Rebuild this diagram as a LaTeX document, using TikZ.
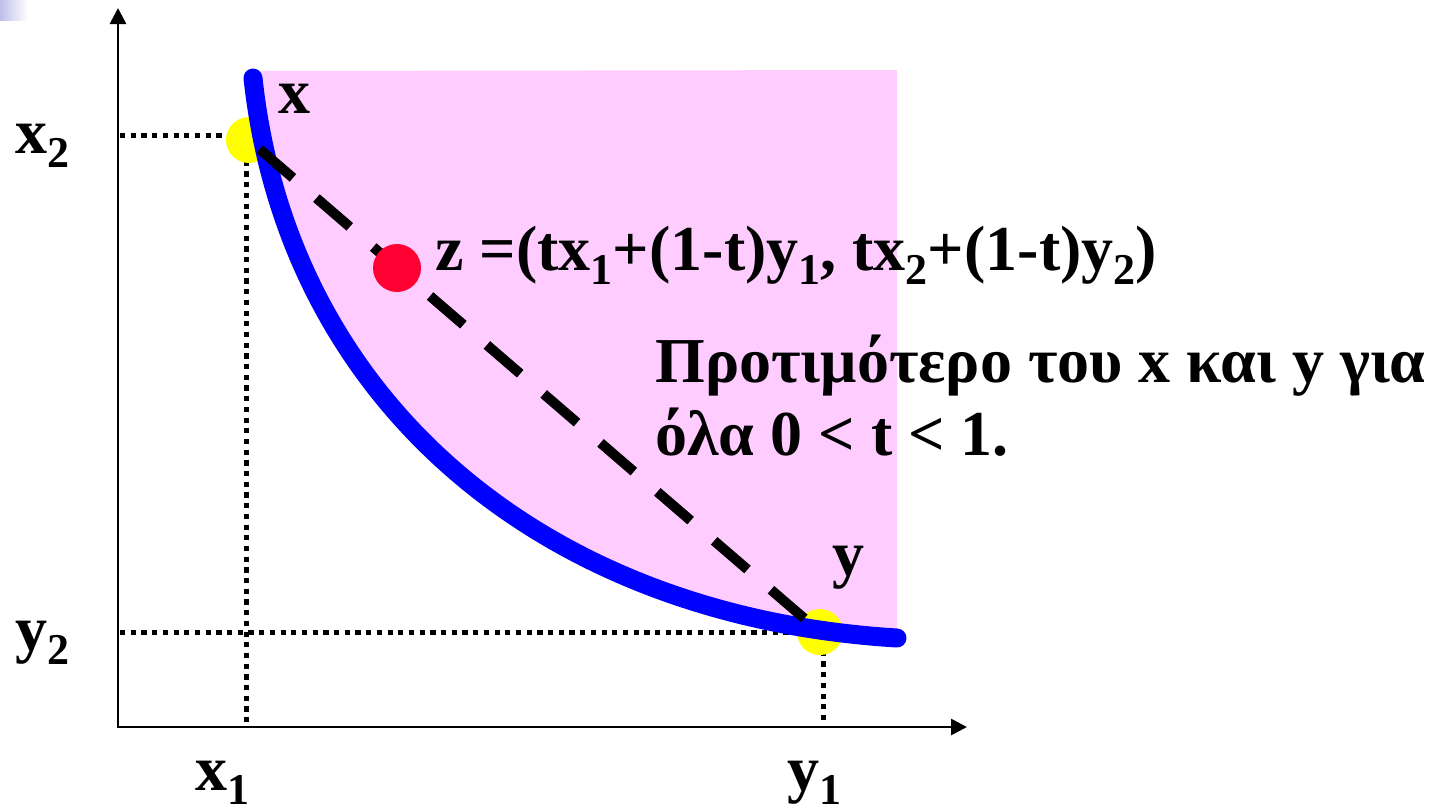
\documentclass[tikz,border=0pt]{standalone}
\usepackage{fontspec}
\setmainfont{Liberation Serif}
\usetikzlibrary{arrows.meta}
\definecolor{pinkfill}{RGB}{255,204,255}
\definecolor{curveblue}{RGB}{0,0,255}
\definecolor{dotyellow}{RGB}{255,255,0}
\definecolor{dotred}{RGB}{255,0,51}
\definecolor{lav}{RGB}{190,190,235}
\newcommand\subt[1]{\raisebox{-7pt}{\fontsize{22}{22}\selectfont #1}}
\begin{document}
\begin{tikzpicture}[x=0.5pt,y=-0.5pt,
  lbl/.style={font=\fontsize{32}{36.5}\selectfont\bfseries, inner sep=0pt, anchor=base west},
  dotline/.style={line width=2.5pt, dash pattern=on 2.6pt off 2.75pt},
  axisline/.style={line width=1.4pt, {Triangle[length=8pt,width=8pt]}-{Triangle[length=8pt,width=8pt]}},
  yellowdot/.style={circle, fill=dotyellow, minimum size=23pt, inner sep=0pt},
  reddot/.style={circle, fill=dotred, minimum size=24pt, inner sep=0pt},
  curveline/.style={draw=curveblue, line width=9.5pt, line cap=round},
  chord/.style={line width=5pt, dash pattern=on 22pt off 15.5pt, dash phase=30.5pt}]
\useasboundingbox (0,0) rectangle (1431,811);
% corner decoration
\shade[left color=lav, right color=white] (0,0) rectangle (28,20);
% named points
\coordinate (O) at (118,727);
\coordinate (ytip) at (118,8);
\coordinate (xtip) at (967,727);
\coordinate (cs) at (253,78);
\coordinate (ce) at (897,638);
\coordinate (xax2) at (120,135);
\coordinate (xpt2) at (238,135);
\coordinate (xax1) at (246,725);
\coordinate (xpt1) at (246,150);
\coordinate (yax2) at (120,632);
\coordinate (ypt2) at (820,632);
\coordinate (yax1) at (823,725);
\coordinate (ypt1) at (823,640);
% preferred region
\fill[pinkfill] (253,71) -- (897,70) -- (ce) .. controls (536,616) and (287,395) .. (cs) -- cycle;
% axes
\draw[axisline] (ytip) -- (O) -- (xtip);
% dotted guides
\draw[dotline] (xax2) -- (xpt2);
\draw[dotline] (xpt1) -- (xax1);
\draw[dotline] (yax2) -- (ypt2);
\draw[dotline] (ypt1) -- (yax1);
% points x and y
\node[yellowdot] (px) at (249,140) {};
\node[yellowdot] (py) at (820,632) {};
% indifference curve
\draw[curveline] (cs) .. controls (287,395) and (536,616) .. (ce);
% chord
\draw[chord] (px.center) -- (py.center);
% point z
\node[reddot] (pz) at (397,268) {};
% labels
\node[lbl] (lx2) at (15,153) {x\subt{2}};
\node[lbl] (ly2) at (15,650) {y\subt{2}};
\node[lbl] (lx1) at (195,790) {x\subt{1}};
\node[lbl] (ly1) at (787,790) {y\subt{1}};
\node[lbl] (lx) at (278,113) {x};
\node[lbl] (ly) at (832,575) {y};
\node[lbl] (lz) at (435,270) {z =(tx\subt{1}+(1-t)y\subt{1}, tx\subt{2}+(1-t)y\subt{2})};
\node[lbl] (lt1) at (655,382) {Προτιμότερο του x και y για};
\node[lbl] (lt2) at (655,455) {όλα 0 < t < 1.};
\end{tikzpicture}
\end{document}
